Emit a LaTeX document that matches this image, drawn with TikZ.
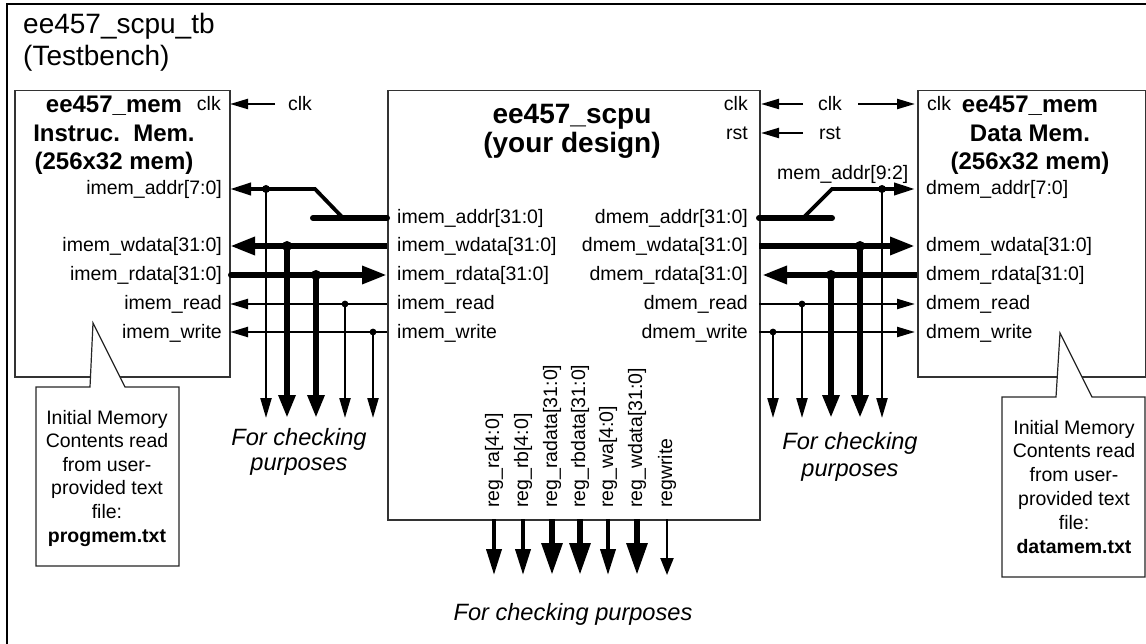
\documentclass[tikz,border=0pt]{standalone}
\usepackage{fontspec}
\setmainfont{Liberation Sans}
\usetikzlibrary{arrows.meta}

\tikzset{
  box/.style={draw=black!80, line width=1.5pt, fill=white, inner sep=0pt, anchor=north west},
  callout/.style={draw=black!85, line width=1.2pt, fill=white},
  wthin/.style={line width=2.2pt},
  wmid/.style={line width=3.8pt},
  wbus/.style={line width=6pt},
  hS/.style={-{Triangle[length=18pt,width=10pt]}},
  hM/.style={-{Triangle[length=21pt,width=12pt]}},
  hL/.style={-{Triangle[length=25pt,width=17pt]}},
  dS/.style={-{Triangle[length=20pt,width=11pt]}},
  dL/.style={-{Triangle[length=23pt,width=16pt]}},
  rM/.style={-{Triangle[length=26pt,width=15pt]}},
  rL/.style={-{Triangle[length=32pt,width=20pt]}},
  rS/.style={-{Triangle[length=17pt,width=13pt]}},
  sig/.style={font=\fontsize{19.5pt}{23.5pt}\selectfont, inner sep=0pt},
  ttl/.style={font=\fontsize{24pt}{29pt}\selectfont\bfseries, inner sep=0pt},
  bigttl/.style={font=\fontsize{28pt}{33pt}\selectfont\bfseries, inner sep=0pt},
  tbttl/.style={font=\fontsize{28pt}{33pt}\selectfont, inner sep=0pt},
  note/.style={font=\fontsize{23.6pt}{26pt}\selectfont\itshape, inner sep=0pt},
}

\begin{document}
\begin{tikzpicture}[x=1pt, y=-1pt]
\useasboundingbox (0,0) rectangle (1146,644);

% testbench frame
\draw[line width=1.5pt] (7,4) rectangle (1160,660);
\node[tbttl, anchor=base west] (tb1) at (23,34) {ee457\_scpu\_tb};
\node[tbttl, anchor=base west] (tb2) at (23,66) {(Testbench)};

% the three blocks
\node[box, minimum width=215pt, minimum height=286pt] (imem) at (14,90) {};
\node[box, minimum width=372pt, minimum height=429pt] (scpu) at (387,90) {};
\node[box, minimum width=228pt, minimum height=286pt] (dmem) at (917,90) {};

% instruction memory text
\node[ttl, anchor=base] (it1) at (114,113) {ee457\_mem};
\node[ttl, anchor=base] (it2) at (114,142) {Instruc.\ \ Mem.};
\node[ttl, anchor=base] (it3) at (114,170) {(256x32 mem)};
\node[sig, anchor=base east] (iclkL) at (221,111) {clk};
\node[sig, anchor=base east] (iaL)  at (222,195) {imem\_addr[7:0]};
\node[sig, anchor=base east] (iwdL) at (222,252) {imem\_wdata[31:0]};
\node[sig, anchor=base east] (irdL) at (222,281) {imem\_rdata[31:0]};
\node[sig, anchor=base east] (irL)  at (222,310) {imem\_read};
\node[sig, anchor=base east] (iwL)  at (222,338) {imem\_write};

% processor text
\node[bigttl, anchor=base] (st1) at (572,124) {ee457\_scpu};
\node[bigttl, anchor=base] (st2) at (572,153) {(your design)};
\node[sig, anchor=base east] (sclkL) at (748,111) {clk};
\node[sig, anchor=base east] (srstL) at (748,140) {rst};
\node[sig, anchor=base west] (siaL)  at (397,224) {imem\_addr[31:0]};
\node[sig, anchor=base west] (siwdL) at (397,252) {imem\_wdata[31:0]};
\node[sig, anchor=base west] (sirdL) at (397,281) {imem\_rdata[31:0]};
\node[sig, anchor=base west] (sirL)  at (397,310) {imem\_read};
\node[sig, anchor=base west] (siwL)  at (397,338) {imem\_write};
\node[sig, anchor=base east] (sdaL)  at (748,224) {dmem\_addr[31:0]};
\node[sig, anchor=base east] (sdwdL) at (748,252) {dmem\_wdata[31:0]};
\node[sig, anchor=base east] (sdrdL) at (748,281) {dmem\_rdata[31:0]};
\node[sig, anchor=base east] (sdrL)  at (748,310) {dmem\_read};
\node[sig, anchor=base east] (sdwL)  at (748,338) {dmem\_write};

% data memory text
\node[ttl, anchor=base] (dt1) at (1030,113) {ee457\_mem};
\node[ttl, anchor=base] (dt2) at (1030,142) {Data Mem.};
\node[ttl, anchor=base] (dt3) at (1030,170) {(256x32 mem)};
\node[sig, anchor=base west] (dclkL) at (927,111) {clk};
\node[sig, anchor=base west] (daL)  at (926,195) {dmem\_addr[7:0]};
\node[sig, anchor=base west] (dwdL) at (926,252) {dmem\_wdata[31:0]};
\node[sig, anchor=base west] (drdL) at (926,281) {dmem\_rdata[31:0]};
\node[sig, anchor=base west] (drL)  at (926,310) {dmem\_read};
\node[sig, anchor=base west] (dwL)  at (926,338) {dmem\_write};

% clock and reset inputs
\node[sig, anchor=base] (clkA) at (300,111) {clk};
\node[sig, anchor=base] (clkB) at (830,111) {clk};
\node[sig, anchor=base] (rstB) at (830,140) {rst};
\coordinate (clkAo) at (275,104);
\coordinate (iCK) at (230,104);
\coordinate (clkBl) at (803,104);
\coordinate (clkBr) at (858,104);
\coordinate (sCK) at (761,104);
\coordinate (dCK) at (915,104);
\coordinate (rstBl) at (803,133);
\coordinate (sRS) at (761,133);
\draw[wthin, hS] (clkAo) -- (iCK);
\draw[wthin, hS] (clkBl) -- (sCK);
\draw[wthin, hS] (clkBr) -- (dCK);
\draw[wthin, hS] (rstBl) -- (sRS);

% ---- instruction memory side ----
\coordinate (iA7) at (230,189);
\coordinate (iWD) at (230,246);
\coordinate (iRDs) at (231,275);
\coordinate (iRDm) at (300,275);
\coordinate (iR)  at (230,304);
\coordinate (iW)  at (230,332);
\coordinate (pA)  at (387,218);
\coordinate (pWD) at (387,246);
\coordinate (pRD) at (387,275);
\coordinate (pR)  at (387,304);
\coordinate (pW)  at (387,332);
\coordinate (aStub) at (313,218);
\coordinate (aJoin) at (343,218);
\coordinate (aBend) at (315,189);

\draw[wbus, line cap=round] (aStub) -- (pA);
\draw[wmid, hM] (aJoin) -- (aBend) -- (iA7);
\draw[wbus, hL] (pWD) -- (iWD);
\draw[wbus, line cap=round] (iRDs) -- (iRDm);
\draw[wbus, hL] (iRDm) -- (pRD);
\draw[wthin, hS] (pR) -- (iR);
\draw[wthin, hS] (pW) -- (iW);

% probe taps on the instruction side
\coordinate (tA)  at (266,189);
\coordinate (tWD) at (287,246);
\coordinate (tRD) at (316,275);
\coordinate (tR)  at (345,304);
\coordinate (tW)  at (373,332);
\coordinate (eA)  at (266,418);
\coordinate (eWD) at (287,418);
\coordinate (eRD) at (316,418);
\coordinate (eR)  at (345,418);
\coordinate (eW)  at (373,418);
\draw[wthin, dS] (tA) -- (eA);
\draw[wbus, dL] (tWD) -- (eWD);
\draw[wbus, dL] (tRD) -- (eRD);
\draw[wthin, dS] (tR) -- (eR);
\draw[wthin, dS] (tW) -- (eW);
\fill (tA) circle[radius=4pt];
\fill (tWD) circle[radius=5pt];
\fill (tRD) circle[radius=5pt];
\fill (tR) circle[radius=3.4pt];
\fill (tW) circle[radius=3.4pt];

% ---- data memory side ----
\coordinate (qA)  at (759,218);
\coordinate (qWD) at (759,246);
\coordinate (qRD) at (762,275);
\coordinate (qR)  at (759,304);
\coordinate (qW)  at (759,332);
\coordinate (dA7) at (915,189);
\coordinate (dWD) at (915,246);
\coordinate (dRDs) at (917,275);
\coordinate (dR)  at (915,304);
\coordinate (dW)  at (915,332);
\coordinate (bStub) at (832,218);
\coordinate (bJoin) at (803,218);
\coordinate (bBend) at (832,189);

\draw[wbus, line cap=round] (qA) -- (bStub);
\draw[wmid, hM] (bJoin) -- (bBend) -- (dA7);
\node[sig, anchor=base west] (maL) at (777,180) {mem\_addr[9:2]};
\draw[wbus, hL] (qWD) -- (dWD);
\draw[wbus, hL] (dRDs) -- (qRD);
\draw[wthin, hS] (qR) -- (dR);
\draw[wthin, hS] (qW) -- (dW);

% probe taps on the data side
\coordinate (uA)  at (882,189);
\coordinate (uWD) at (860,246);
\coordinate (uRD) at (831,275);
\coordinate (uR)  at (802,304);
\coordinate (uW)  at (773,332);
\coordinate (fA)  at (882,418);
\coordinate (fWD) at (860,418);
\coordinate (fRD) at (831,418);
\coordinate (fR)  at (802,418);
\coordinate (fW)  at (773,418);
\draw[wthin, dS] (uA) -- (fA);
\draw[wbus, dL] (uWD) -- (fWD);
\draw[wbus, dL] (uRD) -- (fRD);
\draw[wthin, dS] (uR) -- (fR);
\draw[wthin, dS] (uW) -- (fW);
\fill (uA) circle[radius=4pt];
\fill (uWD) circle[radius=5pt];
\fill (uRD) circle[radius=5pt];
\fill (uR) circle[radius=3.4pt];
\fill (uW) circle[radius=3.4pt];

\node[note, anchor=base] (chkL1) at (299,445) {For checking};
\node[note, anchor=base] (chkL2) at (299,470) {purposes};
\node[note, anchor=base] (chkR1) at (850,449) {For checking};
\node[note, anchor=base] (chkR2) at (850,476) {purposes};

% ---- register file probes ----
\foreach \n/\x/\w/\h/\t in {1/494/wmid/rM/{reg\_ra[4:0]},
                            2/523/wmid/rM/{reg\_rb[4:0]},
                            3/552/wbus/rL/{reg\_radata[31:0]},
                            4/580/wbus/rL/{reg\_rbdata[31:0]},
                            5/608/wmid/rM/{reg\_wa[4:0]},
                            6/637/wbus/rL/{reg\_wdata[31:0]},
                            7/667/wthin/rS/{regwrite}} {
  \coordinate (rs\n) at (\x,519);
  \coordinate (re\n) at (\x,575);
  \draw[\w, \h] (rs\n) -- (re\n);
  \node[sig, rotate=90, anchor=west] (rl\n) at (\x,508) {\t};
}
\node[note, anchor=base] (chkB) at (573,620) {For checking purposes};

% ---- memory initialisation callouts ----
\draw[callout] (36,387) -- (90,387) -- (93,323) -- (125,387) -- (179,387)
  -- (179,566) -- (36,566) -- cycle;
\draw[callout] (1002,397) -- (1056,397) -- (1060,333) -- (1092,397) -- (1145,397)
  -- (1145,577) -- (1002,577) -- cycle;

\foreach \n/\y/\t in {1/424/{Initial Memory}, 2/447.6/{Contents read},
                      3/471.2/{from user-}, 4/494.8/{provided text},
                      5/518.4/{file:}, 6/542/{\textbf{progmem.txt}}} {
  \node[sig, anchor=base] (pn\n) at (107,\y) {\t};
}
\foreach \n/\y/\t in {1/434/{Initial Memory}, 2/457.8/{Contents read},
                      3/481.6/{from user-}, 4/505.4/{provided text},
                      5/529.2/{file:}, 6/553/{\textbf{datamem.txt}}} {
  \node[sig, anchor=base] (dn\n) at (1074,\y) {\t};
}
\end{tikzpicture}
\end{document}
